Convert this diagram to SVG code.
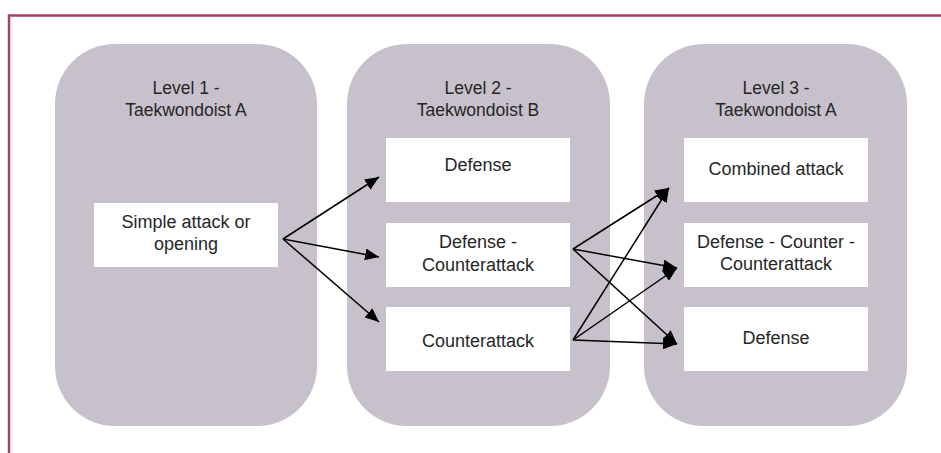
<svg xmlns="http://www.w3.org/2000/svg" width="941" height="453" viewBox="0 0 941 453">
<defs>
<style>
.panel{fill:#C6C1CB;}
.box{fill:#FFFFFF;}
.t{font-family:"Liberation Sans",Arial,sans-serif;fill:#262626;text-anchor:middle;}
.title{font-size:17.5px;}
.lbl{font-size:18px;}
.conn line{stroke:#000;stroke-width:1.5;fill:none;marker-end:url(#ah);}
</style>
<marker id="ah" viewBox="0 0 14 12" refX="14" refY="6" markerWidth="14" markerHeight="12" markerUnits="userSpaceOnUse" orient="auto">
<path d="M0,0 L14,6 L0,12 z" fill="#000"/>
</marker>
</defs>
<rect width="941" height="453" fill="#FFFFFF"/>
<path d="M9,453 V15.5 H941" fill="none" stroke="#A4416A" stroke-width="2.5"/>

<g id="level1">
<rect class="panel" x="55" y="44" width="262" height="382" rx="60" ry="60"/>
<text class="t title" x="186" y="94">Level 1 -</text>
<text class="t title" x="186" y="116">Taekwondoist A</text>
</g>
<g id="level2">
<rect class="panel" x="347" y="44" width="263" height="382" rx="60" ry="60"/>
<text class="t title" x="478" y="94">Level 2 -</text>
<text class="t title" x="478" y="116">Taekwondoist B</text>
</g>
<g id="level3">
<rect class="panel" x="644" y="44" width="263" height="382" rx="60" ry="60"/>
<text class="t title" x="776" y="94">Level 3 -</text>
<text class="t title" x="776" y="116">Taekwondoist A</text>
</g>

<g id="simple-attack">
<rect class="box" x="94" y="203" width="184" height="64"/>
<text class="t lbl" x="186" y="228">Simple attack or</text>
<text class="t lbl" x="186" y="250">opening</text>
</g>

<g id="l2-defense">
<rect class="box" x="386" y="138" width="184" height="64"/>
<text class="t lbl" x="478" y="171">Defense</text>
</g>
<g id="l2-defense-counterattack">
<rect class="box" x="386" y="223" width="184" height="64"/>
<text class="t lbl" x="478" y="248">Defense -</text>
<text class="t lbl" x="478" y="271">Counterattack</text>
</g>
<g id="l2-counterattack">
<rect class="box" x="386" y="307" width="184" height="64"/>
<text class="t lbl" x="478" y="347">Counterattack</text>
</g>

<g id="l3-combined">
<rect class="box" x="684" y="138" width="184" height="64"/>
<text class="t lbl" x="776" y="175">Combined attack</text>
</g>
<g id="l3-dcc">
<rect class="box" x="684" y="223" width="184" height="64"/>
<text class="t lbl" x="776" y="248">Defense - Counter -</text>
<text class="t lbl" x="776" y="270">Counterattack</text>
</g>
<g id="l3-defense">
<rect class="box" x="684" y="307" width="184" height="64"/>
<text class="t lbl" x="776" y="344">Defense</text>
</g>

<g id="connectors" class="conn">
<line x1="283" y1="239" x2="379" y2="177"/>
<line x1="283" y1="239" x2="379" y2="257"/>
<line x1="283" y1="239" x2="379" y2="322"/>
<line x1="573" y1="249" x2="669" y2="188"/>
<line x1="573" y1="249" x2="677" y2="268"/>
<line x1="573" y1="249" x2="677" y2="344"/>
<line x1="573" y1="340" x2="669" y2="188"/>
<line x1="573" y1="340" x2="677" y2="268"/>
<line x1="573" y1="340" x2="677" y2="344"/>
</g>
</svg>
